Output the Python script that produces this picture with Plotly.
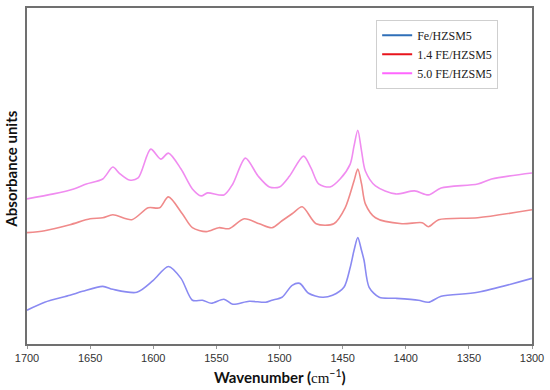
import plotly.graph_objects as go

# ---- data (wavenumber in cm-1, absorbance in arbitrary units) ----
wn_fe = [1700, 1686, 1666, 1656, 1640, 1632, 1613, 1600, 1588, 1578, 1569, 1561, 1554, 1544,
         1537, 1524, 1511, 1506, 1498, 1490, 1484, 1477, 1466, 1458, 1449, 1444, 1441, 1438,
         1435, 1433, 1429, 1421, 1408, 1390, 1382, 1372, 1343, 1300]
abs_fe = [0.34, 0.42, 0.49, 0.53, 0.58, 0.55, 0.52, 0.64, 0.78, 0.66, 0.44, 0.44, 0.41, 0.45,
          0.40, 0.43, 0.42, 0.44, 0.47, 0.59, 0.61, 0.51, 0.47, 0.49, 0.57, 0.77, 0.94, 1.07,
          0.94, 0.84, 0.57, 0.47, 0.46, 0.44, 0.42, 0.48, 0.52, 0.66]

wn_14 = [1700, 1686, 1666, 1650, 1640, 1632, 1617, 1604, 1595, 1588, 1577, 1569, 1558, 1548,
         1540, 1528, 1516, 1506, 1498, 1490, 1482, 1471, 1457, 1448, 1441, 1438, 1435, 1432,
         1424, 1403, 1387, 1382, 1374, 1343, 1300]
abs_14 = [1.12, 1.14, 1.20, 1.26, 1.27, 1.30, 1.25, 1.37, 1.37, 1.48, 1.31, 1.17, 1.13, 1.17,
          1.16, 1.26, 1.21, 1.17, 1.24, 1.31, 1.38, 1.21, 1.21, 1.37, 1.64, 1.76, 1.61, 1.41,
          1.27, 1.21, 1.22, 1.18, 1.25, 1.27, 1.35]

wn_50 = [1700, 1679, 1663, 1653, 1640, 1632, 1627, 1619, 1612, 1602, 1594, 1588, 1578, 1569,
         1562, 1557, 1544, 1537, 1527, 1517, 1508, 1500, 1492, 1481, 1475, 1469, 1460, 1452,
         1444, 1441, 1438, 1435, 1432, 1424, 1408, 1393, 1382, 1372, 1343, 1332, 1300]
abs_50 = [1.46, 1.51, 1.56, 1.61, 1.66, 1.78, 1.72, 1.65, 1.67, 1.96, 1.86, 1.92, 1.76, 1.56,
          1.49, 1.52, 1.50, 1.61, 1.87, 1.69, 1.58, 1.58, 1.69, 1.89, 1.77, 1.61, 1.58, 1.66,
          1.81, 1.99, 2.15, 1.94, 1.74, 1.59, 1.51, 1.54, 1.50, 1.57, 1.61, 1.66, 1.72]

names = ["Fe/HZSM5", "1.4 FE/HZSM5", "5.0 FE/HZSM5"]
x_ticks = [1700, 1650, 1600, 1550, 1500, 1450, 1400, 1350, 1300]

curve_colors = ["#8a8af2", "#f08a8a", "#f08cf0"]
legend_colors = ["#2f6fb8", "#e8141c", "#ff66ff"]

fig = go.Figure()
for wn, ab, c in [(wn_fe, abs_fe, curve_colors[0]), (wn_14, abs_14, curve_colors[1]),
                  (wn_50, abs_50, curve_colors[2])]:
    fig.add_trace(go.Scatter(x=wn, y=ab, mode="lines", showlegend=False,
                             line=dict(color=c, width=1.6, shape="spline", smoothing=0.8)))
for n, c in zip(names, legend_colors):
    fig.add_trace(go.Scatter(x=[None], y=[None], mode="lines", name=n,
                             line=dict(color=c, width=2)))

fig.update_layout(
    width=550, height=390,
    margin=dict(l=27, r=16, t=6, b=46),
    paper_bgcolor="white", plot_bgcolor="white",
    showlegend=True,
    legend=dict(x=0.933, xanchor="right", y=0.965, yanchor="top",
                bgcolor="white", bordercolor="#cfcfcf", borderwidth=1,
                font=dict(family="Liberation Serif", size=12, color="#222"),
                tracegroupgap=0, itemwidth=30),
    xaxis=dict(range=[1700, 1300], tickvals=x_ticks, ticktext=[str(v) for v in x_ticks],
               showgrid=False, zeroline=False, showline=True, mirror=True,
               linecolor="#707070", linewidth=1.5, ticks="outside", ticklen=3,
               tickcolor="#999", tickfont=dict(family="Liberation Sans", size=11, color="#333")),
    yaxis=dict(range=[0, 3.38], showticklabels=False, ticks="", showgrid=False,
               zeroline=False, showline=True, mirror=True, linecolor="#707070", linewidth=1.5),
    annotations=[
        dict(text="<b>Wavenumber (</b><span style='font-family:Liberation Serif'>cm</span><sup>\u22121</sup><b>)</b>",
             xref="paper", yref="paper", x=0.5, y=-0.097, xanchor="center", yanchor="middle",
             showarrow=False, font=dict(family="Lato", size=15, color="#111")),
        dict(text="<b>Absorbance units</b>", xref="paper", yref="paper",
             x=-0.031, y=0.52, xanchor="center", yanchor="middle", textangle=-90,
             showarrow=False, font=dict(family="Lato", size=15, color="#111")),
    ],
)

fig.write_html("out.html", config={"displayModeBar": False},
               post_script="document.body.style.margin='0';document.body.style.overflow='hidden';")
